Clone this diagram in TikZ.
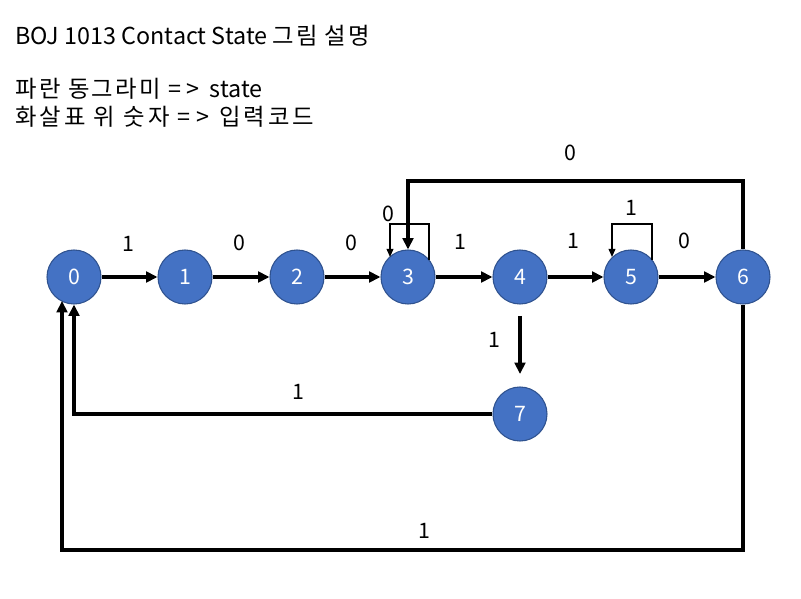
\documentclass[tikz,border=0pt]{standalone}
\usepackage{fontspec}
\setmainfont{Noto Sans CJK KR}
\usetikzlibrary{arrows.meta,calc}
\tikzset{
  state/.style={circle,fill=stblue,draw=stborder,line width=0.8pt,minimum size=40.5pt,inner sep=0pt,text=white,font=\fontsize{16}{19}\selectfont},
  edge/.style={line width=2.3pt,-{Triangle[length=8.5pt,width=8pt]}},
  thinedge/.style={line width=1.1pt,-{Triangle[length=6pt,width=5pt]}},
  lbl/.style={font=\fontsize{16}{19}\selectfont,inner sep=0pt},
  txt/.style={font=\fontsize{17.5}{21}\selectfont,inner sep=0pt,anchor=base west}
}
\definecolor{stblue}{HTML}{4472C4}
\definecolor{stborder}{HTML}{2F528F}
\begin{document}
\begin{tikzpicture}[x=0.75pt,y=-0.75pt]
\useasboundingbox (0,0) rectangle (801,599);
\fill[white] (0,0) rectangle (801,599);
\node[txt] (t1) at (15,45) {BOJ 1013 Contact State \addfontfeature{LetterSpace=8}그림 설명};
\node[txt] (t2) at (15,98) {\addfontfeature{LetterSpace=10}파란 동그라미 \addfontfeature{LetterSpace=22}=> \addfontfeature{LetterSpace=0}state};
\node[txt] (t3) at (15,126) {\addfontfeature{LetterSpace=13}화살표 위 숫자 \addfontfeature{LetterSpace=22}=> \addfontfeature{LetterSpace=13}입력코드};

\foreach \i/\x in {0/74,1/185,2/297,3/408,4/520,5/631,6/743}
  \node[state] (n\i) at (\x,277) {\i};
\node[state] (n7) at (520,414) {7};

\draw[edge] (n0) -- (n1);
\draw[edge] (n1) -- (n2);
\draw[edge] (n2) -- (n3);
\draw[edge] (n3) -- (n4);
\draw[edge] (n4) -- (n5);
\draw[edge] (n5) -- (n6);

% self loops
\coordinate (l3a) at (429,260);
\coordinate (l3b) at (429,224);
\coordinate (l3c) at (390,224);
\coordinate (l3d) at (390,257);
\draw[thinedge] (l3a) -- (l3b) -- (l3c) -- (l3d);
\coordinate (l5a) at (652,260);
\coordinate (l5b) at (652,224);
\coordinate (l5c) at (612,224);
\coordinate (l5d) at (612,257);
\draw[thinedge] (l5a) -- (l5b) -- (l5c) -- (l5d);

% big loop 6 -> 3
\coordinate (top6) at (743,181);
\draw[edge] (n6.north) -- (top6) -| (n3.north);

% 4 -> 7 detached arrow
\coordinate (a47s) at (520,316);
\coordinate (a47e) at (520,374);
\draw[edge] (a47s) -- (a47e);

% 7 -> 0
\draw[edge] (n7.west) -| (n0.south);

% 6 -> 0 bottom
\coordinate (b6) at (743,550);
\coordinate (b0) at (62,550);
\coordinate (e0) at ($(n0.center)+(-12,24)$);
\draw[edge] (n6.south) -- (b6) -- (b0) -- (e0);

% labels
\node[lbl] (L01) at (128,244) {1};
\node[lbl] (L12) at (239,243) {0};
\node[lbl] (L23) at (351,243) {0};
\node[lbl] (L33) at (388,214) {0};
\node[lbl] (L34) at (460,242) {1};
\node[lbl] (L45) at (573,241) {1};
\node[lbl] (L55) at (631,208) {1};
\node[lbl] (L56) at (684,241) {0};
\node[lbl] (L63) at (570,153) {0};
\node[lbl] (L47) at (494,340) {1};
\node[lbl] (L70) at (298,392) {1};
\node[lbl] (L60) at (424,531) {1};
\end{tikzpicture}
\end{document}
